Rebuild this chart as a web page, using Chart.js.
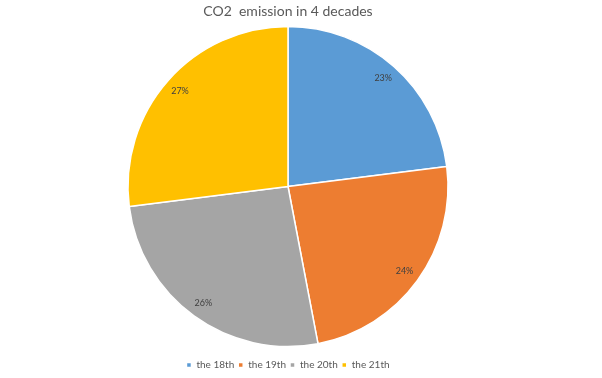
<!DOCTYPE html>
<html>
<head>
<meta charset="utf-8">
<script src="https://cdn.jsdelivr.net/npm/chart.js@4.4.1/dist/chart.umd.min.js"></script>
<style>
    html, body { margin: 0; padding: 0; background: #ffffff; }
    #co2Chart { display: block; }
</style>
</head>
<body>
<canvas id="co2Chart" width="602" height="378"></canvas>
<script>
// Chart data
const decades = ['the 18th', 'the 19th', 'the 20th', 'the 21th'];
const emissionShares = [23, 24, 26, 27];
const sliceColors = ['#5B9BD5', '#ED7D31', '#A5A5A5', '#FFC000'];

// Percent labels drawn inside each slice, near the rim
const sliceLabels = {
    id: 'sliceLabels',
    afterDatasetsDraw(chart) {
        const ctx = chart.ctx;
        const meta = chart.getDatasetMeta(0);
        const values = chart.data.datasets[0].data;
        const total = values.reduce((a, b) => a + b, 0);
        ctx.save();
        ctx.font = '9px Lato, "Liberation Sans", sans-serif';
        ctx.fillStyle = '#404040';
        ctx.textAlign = 'center';
        ctx.textBaseline = 'middle';
        meta.data.forEach((arc, i) => {
            const p = arc.getProps(['x', 'y', 'startAngle', 'endAngle', 'outerRadius'], true);
            const mid = (p.startAngle + p.endAngle) / 2;
            const r = p.outerRadius * 0.9;
            const pct = Math.round(values[i] / total * 100) + '%';
            ctx.fillText(pct, p.x + Math.cos(mid) * r, p.y + Math.sin(mid) * r);
        });
        ctx.restore();
    }
};

new Chart(document.getElementById('co2Chart'), {
    type: 'pie',
    data: {
        labels: decades,
        datasets: [{
            data: emissionShares,
            backgroundColor: sliceColors,
            borderColor: '#ffffff',
            borderWidth: 1.5,
            radius: 160
        }]
    },
    options: {
        responsive: false,
        animation: false,
        layout: {
            padding: { left: 0, right: 26, top: 0, bottom: -2 }
        },
        plugins: {
            title: {
                display: true,
                text: 'CO2  emission in 4 decades',
                color: '#595959',
                font: { family: 'Lato, "Liberation Sans", sans-serif', size: 14, weight: 'normal', lineHeight: 1 },
                padding: { top: 4, bottom: -1 }
            },
            legend: {
                position: 'bottom',
                labels: {
                    color: '#595959',
                    font: { family: 'Lato, "Liberation Sans", sans-serif', size: 10 },
                    boxWidth: 5,
                    boxHeight: 5,
                    padding: 4
                }
            },
            tooltip: { enabled: false }
        }
    },
    plugins: [sliceLabels]
});
</script>
</body>
</html>
